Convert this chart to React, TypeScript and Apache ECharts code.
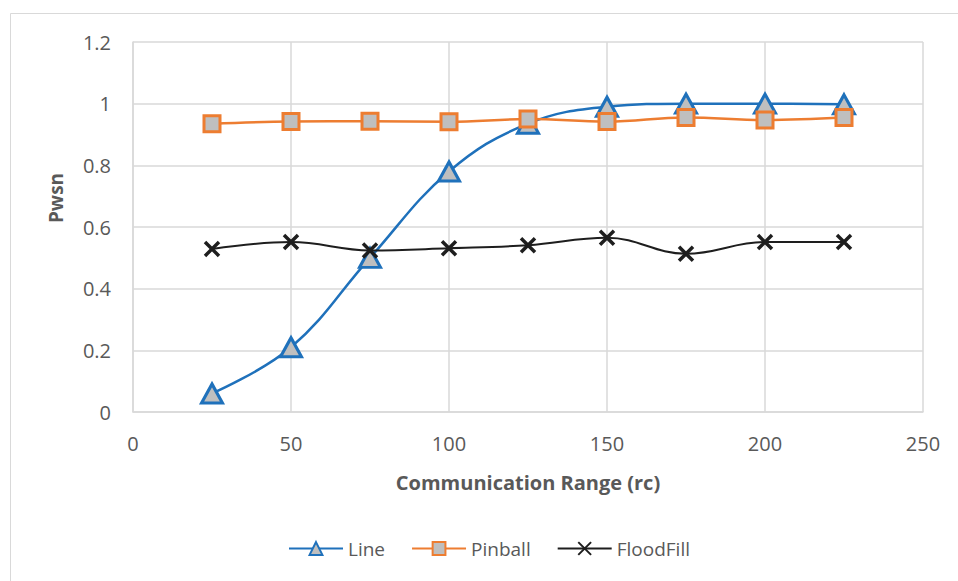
import React, { useEffect, useRef } from "react";
import * as echarts from "echarts";

// Communication range (rc) on the x axis
const ranges = [25, 50, 75, 100, 125, 150, 175, 200, 225];

// Pwsn per protocol
const lineValues = [0.06, 0.21, 0.5, 0.78, 0.935, 0.99, 1.0, 1.0, 0.998];
const pinballValues = [0.935, 0.942, 0.943, 0.941, 0.95, 0.942, 0.955, 0.947, 0.955];
const floodFillValues = [0.529, 0.551, 0.524, 0.531, 0.541, 0.565, 0.513, 0.551, 0.551];

const xTicks = { min: 0, max: 250, interval: 50 };
const yTicks = { min: 0, max: 1.2, interval: 0.2 };

const FONT = "'Open Sans', 'Liberation Sans', sans-serif";
const TEXT_GRAY = "#595959";
const GRID_GRAY = "#d9d9d9";

const BLUE = "#1f71bb";
const ORANGE = "#ed7d31";
const BLACK = "#1e1e1e";
const MARKER_FILL = "#bfbfbf";

const CROSS = "path://M0,0L10,10M10,0L0,10";

const pairs = (vals: number[]) => ranges.map((r, i) => [r, vals[i]]);

export default function App() {
  const ref = useRef<HTMLDivElement>(null);

  useEffect(() => {
    if (!ref.current) return;
    const chart = echarts.init(ref.current, null, { renderer: "svg" });
    chart.setOption({
      animation: false,
      backgroundColor: "#ffffff",
      textStyle: { fontFamily: FONT },
      grid: { left: 133, right: 35, top: 42, bottom: 169 },
      graphic: [
        {
          type: "rect",
          shape: { x: 10.5, y: 13.5, width: 1000, height: 1000 },
          style: { fill: "none", stroke: GRID_GRAY, lineWidth: 1 },
          silent: true,
        },
        {
          type: "text",
          x: 56,
          y: 198,
          rotation: Math.PI / 2,
          style: {
            text: "Pwsn",
            font: `bold 19px ${FONT}`,
            fill: TEXT_GRAY,
            align: "center",
            verticalAlign: "middle",
          },
        },
      ],
      xAxis: {
        type: "value",
        ...xTicks,
        name: "Communication Range (rc)",
        nameLocation: "middle",
        nameGap: 60,
        nameTextStyle: { color: TEXT_GRAY, fontSize: 20, fontWeight: "bold", fontFamily: FONT },
        axisLine: { show: true, lineStyle: { color: GRID_GRAY, width: 1.5 } },
        axisTick: { show: false },
        axisLabel: { color: TEXT_GRAY, fontSize: 20, fontFamily: FONT, margin: 21 },
        splitLine: { show: true, lineStyle: { color: GRID_GRAY, width: 1.5 } },
      },
      yAxis: {
        type: "value",
        ...yTicks,
        axisLine: { show: true, lineStyle: { color: GRID_GRAY, width: 1.5 } },
        axisTick: { show: false },
        axisLabel: { color: TEXT_GRAY, fontSize: 20, fontFamily: FONT, margin: 22 },
        splitLine: { show: true, lineStyle: { color: GRID_GRAY, width: 1.5 } },
      },
      legend: {
        left: 288,
        top: 539,
        padding: 0,
        itemWidth: 54,
        itemHeight: 16,
        itemGap: 26,
        textStyle: { color: TEXT_GRAY, fontSize: 19, fontFamily: FONT },
        data: ["Line", "Pinball", "FloodFill"],
      },
      series: [
        {
          name: "Line",
          type: "line",
          data: pairs(lineValues),
          smooth: 0.4,
          symbol: "triangle",
          symbolSize: [21, 19],
          lineStyle: { color: BLUE, width: 2.5 },
          itemStyle: { color: MARKER_FILL, borderColor: BLUE, borderWidth: 3 },
          z: 3,
        },
        {
          name: "Pinball",
          type: "line",
          data: pairs(pinballValues),
          smooth: 0.4,
          symbol: "rect",
          symbolSize: 16,
          lineStyle: { color: ORANGE, width: 2.5 },
          itemStyle: { color: MARKER_FILL, borderColor: ORANGE, borderWidth: 3 },
          z: 4,
        },
        {
          name: "FloodFill",
          type: "line",
          data: pairs(floodFillValues),
          smooth: 0.4,
          symbol: CROSS,
          symbolSize: 14,
          lineStyle: { color: BLACK, width: 2 },
          itemStyle: { color: BLACK, borderColor: BLACK, borderWidth: 3.5 },
          z: 5,
        },
      ],
    });
    return () => chart.dispose();
  }, []);

  return (
    <div
      ref={ref}
      style={{ position: "fixed", left: 0, top: 0, width: 958, height: 581, background: "#fff" }}
    />
  );
}
